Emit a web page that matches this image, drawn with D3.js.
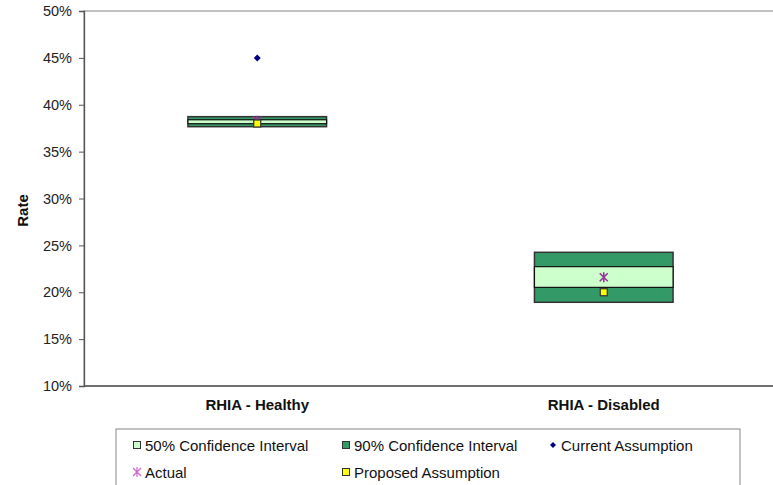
<!DOCTYPE html>
<html>
<head>
<meta charset="utf-8">
<script src="https://cdn.jsdelivr.net/npm/d3@7"></script>
<style>
  body { margin: 0; background: #fff; }
  text { font-family: "Liberation Sans", Arial, sans-serif; }
</style>
</head>
<body>
<div id="chart"></div>
<script>
// chart data (rates in %)
var categories = ["RHIA - Healthy", "RHIA - Disabled"];
var ci90Low = [37.66, 18.93];
var ci90High = [38.73, 24.26];
var ci50Low = [37.98, 20.52];
var ci50High = [38.40, 22.73];
var currentAssumption = [45.0, 20.0];
var actual = [38.3, 21.6];
var proposedAssumption = [38.0, 20.0];
var yTicks = [10, 15, 20, 25, 30, 35, 40, 45, 50];
var legendLabels = ["50% Confidence Interval", "90% Confidence Interval", "Current Assumption", "Actual", "Proposed Assumption"];

var W = 773, H = 485;
var margin = {top: 11, left: 84, right: -4, bottom: 99};
var width = W - margin.left - margin.right,
    height = H - margin.top - margin.bottom;

var svg = d3.select("#chart")
  .append("svg")
    .attr("width", W)
    .attr("height", H);

var g = svg.append("g")
    .attr("transform", "translate(" + margin.left + "," + margin.top + ")");

var x = d3.scaleBand()
  .domain(categories)
  .range([0, width])
  .paddingInner(0.6)
  .paddingOuter(0.3);

var y = d3.scaleLinear()
  .domain([10, 50])
  .range([height, 0]);

// plot area border (top/right)
g.append("rect")
  .attr("x", 0).attr("y", 0)
  .attr("width", width).attr("height", height)
  .attr("fill", "none")
  .attr("stroke", "#999")
  .attr("stroke-width", 1.2);

// Y axis
var yAxis = g.append("g")
  .call(d3.axisLeft(y).tickValues(yTicks).tickSize(5).tickPadding(7)
    .tickFormat(function (d) { return d + "%"; }));
yAxis.select(".domain").attr("stroke", "#555").attr("stroke-width", 1.3);
yAxis.selectAll(".tick line").attr("stroke", "#555");
yAxis.selectAll(".tick text").attr("font-size", 14.5).attr("fill", "#222")
  .attr("font-family", "Liberation Sans, Arial, sans-serif");

// X axis line
g.append("line")
  .attr("x1", 0).attr("x2", width)
  .attr("y1", height).attr("y2", height)
  .attr("stroke", "#555").attr("stroke-width", 1.3);

// category labels
g.selectAll(".cat")
  .data(categories)
  .enter()
  .append("text")
    .attr("x", function (d) { return x(d) + x.bandwidth() / 2; })
    .attr("y", height + 24)
    .attr("text-anchor", "middle")
    .attr("font-size", 15)
    .attr("font-weight", "bold")
    .attr("fill", "#111")
    .text(function (d) { return d; });

// Y label
svg.append("text")
  .attr("transform", "translate(28," + (margin.top + height / 2 + 12) + ") rotate(-90)")
  .attr("text-anchor", "middle")
  .attr("font-size", 15)
  .attr("font-weight", "bold")
  .attr("fill", "#111")
  .text("Rate");

// 90% CI boxes
g.selectAll(".ci90")
  .data(categories)
  .enter()
  .append("rect")
    .attr("x", function (d) { return x(d); })
    .attr("width", x.bandwidth())
    .attr("y", function (d, i) { return y(ci90High[i]); })
    .attr("height", function (d, i) { return y(ci90Low[i]) - y(ci90High[i]); })
    .attr("fill", "#339966")
    .attr("stroke", "#333")
    .attr("stroke-width", 1.5);

// 50% CI boxes
g.selectAll(".ci50")
  .data(categories)
  .enter()
  .append("rect")
    .attr("x", function (d) { return x(d); })
    .attr("width", x.bandwidth())
    .attr("y", function (d, i) { return y(ci50High[i]); })
    .attr("height", function (d, i) { return y(ci50Low[i]) - y(ci50High[i]); })
    .attr("fill", "#CCFFCC")
    .attr("stroke", "#111")
    .attr("stroke-width", 1.2);

function cx(d) { return x(d) + x.bandwidth() / 2; }

var diamond = "M0,-3.5L3.5,0L0,3.5L-3.5,0Z";
var star = "M-4,-4L4,4M-4,4L4,-4M0,-5L0,5";

// current assumption (diamond)
g.selectAll(".cur")
  .data(categories)
  .enter()
  .append("path")
    .attr("d", diamond)
    .attr("transform", function (d, i) { return "translate(" + cx(d) + "," + y(currentAssumption[i]) + ")"; })
    .attr("fill", "#000080");

// actual (asterisk)
g.selectAll(".act")
  .data(categories)
  .enter()
  .append("path")
    .attr("d", star)
    .attr("transform", function (d, i) { return "translate(" + cx(d) + "," + y(actual[i]) + ")"; })
    .attr("fill", "none")
    .attr("stroke", "#993399")
    .attr("stroke-width", 1.6);

// proposed assumption (yellow square)
g.selectAll(".prop")
  .data(categories)
  .enter()
  .append("rect")
    .attr("x", function (d) { return cx(d) - 3.5; })
    .attr("y", function (d, i) { return y(proposedAssumption[i]) - 3.5; })
    .attr("width", 7)
    .attr("height", 7)
    .attr("fill", "#FFFF00")
    .attr("stroke", "#333")
    .attr("stroke-width", 1.2);

// legend
var legend = svg.append("g");
legend.append("rect")
  .attr("x", 116).attr("y", 429)
  .attr("width", 624).attr("height", 70)
  .attr("fill", "#fff")
  .attr("stroke", "#999")
  .attr("stroke-width", 1.2);

var legPos = [[137, 445], [346, 445], [553, 445], [137, 472], [346, 472]];
var legItems = legend.selectAll(".leg")
  .data(legendLabels)
  .enter()
  .append("g")
    .attr("transform", function (d, i) { return "translate(" + legPos[i][0] + "," + legPos[i][1] + ")"; });

legItems.each(function (d, i) {
  var it = d3.select(this);
  if (i === 0 || i === 1 || i === 4) {
    it.append("rect")
      .attr("x", -3.5).attr("y", -3.5)
      .attr("width", 7).attr("height", 7)
      .attr("fill", i === 0 ? "#CCFFCC" : (i === 1 ? "#339966" : "#FFFF00"))
      .attr("stroke", "#333").attr("stroke-width", 1);
  } else if (i === 2) {
    it.append("path")
      .attr("d", "M0,-3L3,0L0,3L-3,0Z")
      .attr("fill", "#000080");
  } else {
    it.append("path")
      .attr("d", star)
      .attr("fill", "none")
      .attr("stroke", "#CC66CC")
      .attr("stroke-width", 1.2);
  }
  it.append("text")
    .attr("x", 8)
    .attr("y", 5.5)
    .attr("font-size", 15)
    .attr("fill", "#111")
    .text(d);
});
</script>
</body>
</html>
